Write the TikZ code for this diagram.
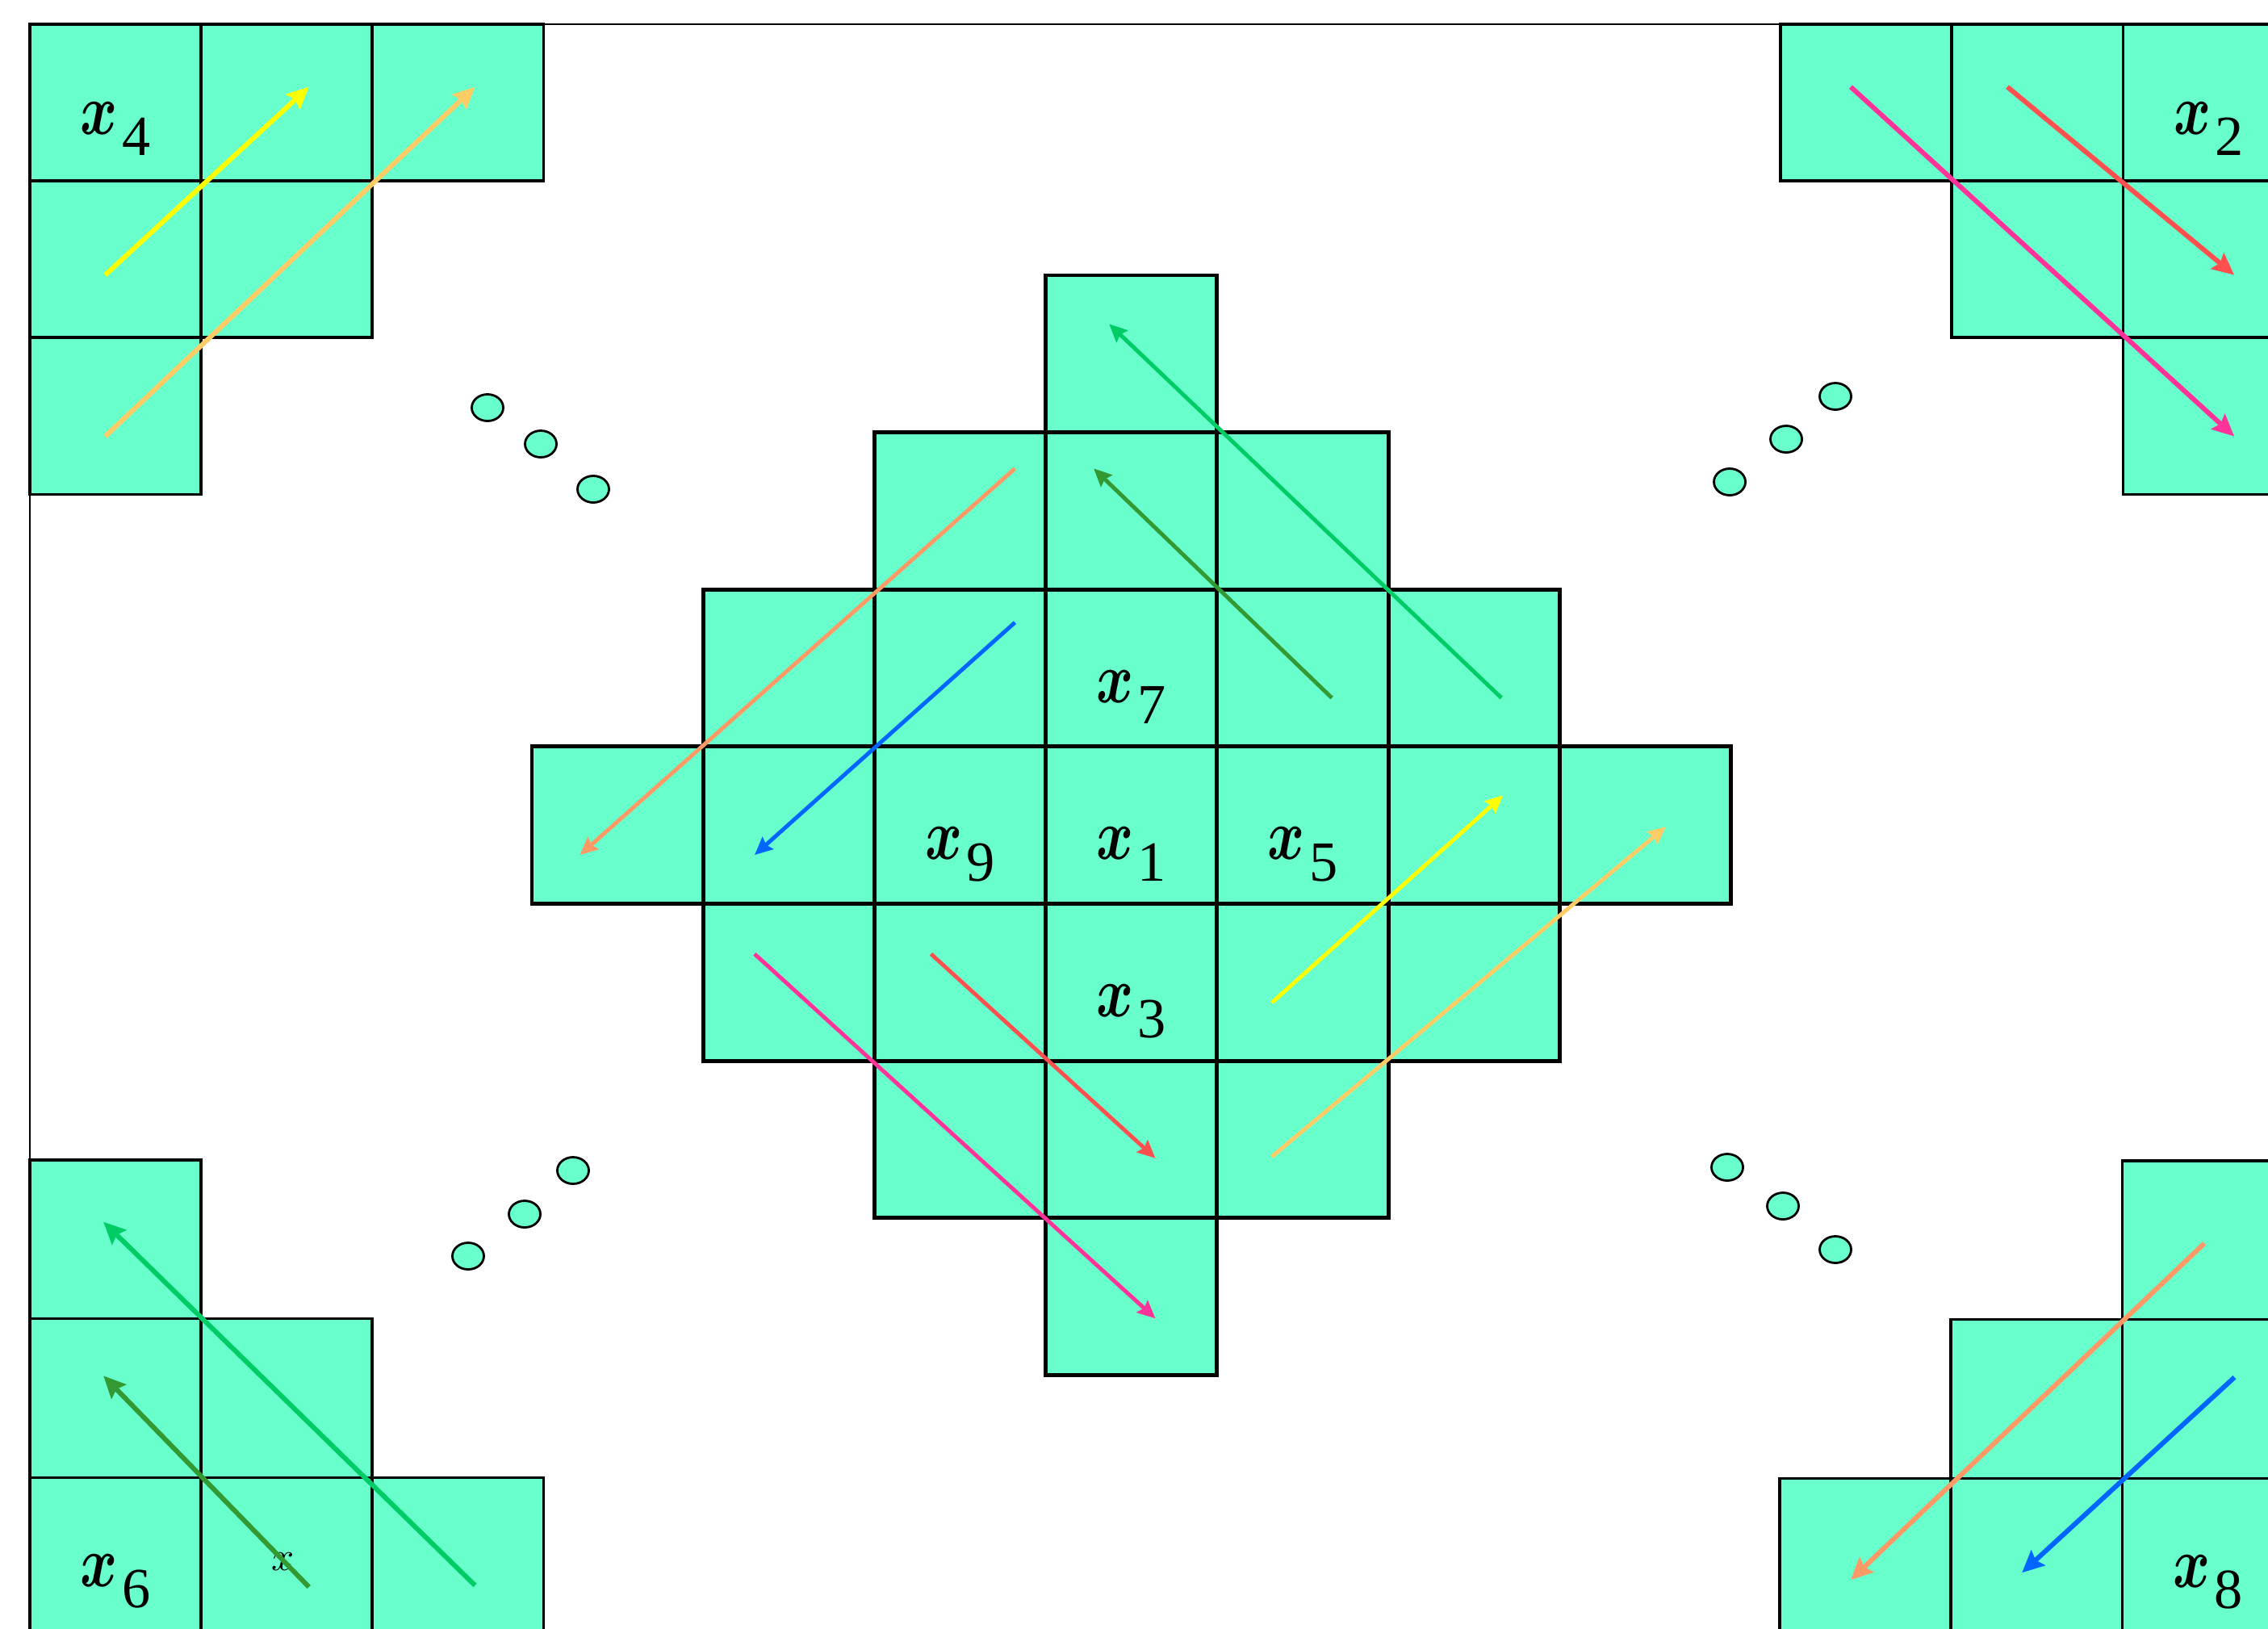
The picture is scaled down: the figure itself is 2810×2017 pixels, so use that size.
\documentclass[tikz,border=0pt]{standalone}
\usepackage{fontspec}
\setmainfont{Liberation Serif}
\usepackage{tikz}
\usetikzlibrary{arrows.meta}
\definecolor{cellc}{RGB}{104,255,204}
\definecolor{yelc}{RGB}{255,255,0}
\definecolor{sandc}{RGB}{255,204,102}
\definecolor{pinkc}{RGB}{255,51,153}
\definecolor{redc}{RGB}{255,80,80}
\definecolor{greenc}{RGB}{0,204,102}
\definecolor{dgreenc}{RGB}{51,153,51}
\definecolor{salmonc}{RGB}{255,153,102}
\definecolor{bluec}{RGB}{0,102,255}
\newcommand{\xsub}[1]{\scalebox{0.8}[1.02]{\boldmath$x$}\kern1.5pt\raisebox{-7.4pt}{\fontsize{20}{20}\selectfont #1}}

\begin{document}
\begin{tikzpicture}[x=0.01cm, y=-0.01cm,
  cell/.style={draw, fill=cellc, line width=1pt},
  ccell/.style={cell, line width=1.4pt},
  lbl/.style={font=\fontsize{30}{30}\selectfont, anchor=base, inner sep=0pt},
  arr/.style={-{Stealth[length=2.7mm, width=2.5mm, inset=0.4mm]}, line width=1.7pt},
  carr/.style={-{Stealth[length=2.2mm, width=2mm, inset=0.3mm]}, line width=1.4pt},
  dot/.style={draw, fill=cellc, line width=0.8pt}]
  \useasboundingbox (0,0) rectangle (2810,2017);
  \clip (0,0) rectangle (2810,2017);
  \draw[line width=0.6pt] (37,2017) -- (37,30) -- (2810,30);
  % top left block
  \begin{scope}[shift={(37,30)}, x=2.12cm, y=-1.94cm]
    \foreach \c/\r in {0/0,1/0,2/0,0/1,1/1,0/2} \draw[cell] (\c,\r) rectangle ++(1,1);
    \node[lbl] (x4) at (0.5,0.705) {\xsub{4}};
    \draw[arr, yelc] (0.44,1.6) -- (1.63,0.4);
    \draw[arr, sandc] (0.44,2.63) -- (2.6,0.4);
  \end{scope}
  % top right block
  \begin{scope}[shift={(2206,30)}, x=2.12cm, y=-1.94cm]
    \foreach \c/\r in {0/0,1/0,2/0,1/1,2/1,2/2} \draw[cell] (\c,\r) rectangle ++(1,1);
    \node[lbl] (x2) at (2.5,0.705) {\xsub{2}};
    \draw[arr, pinkc] (0.41,0.4) -- (2.65,2.63);
    \draw[arr, redc] (1.325,0.4) -- (2.65,1.6);
  \end{scope}
  % bottom left block
  \begin{scope}[shift={(37,1437)}, x=2.12cm, y=-1.965cm]
    \foreach \c/\r in {0/0,0/1,1/1,0/2,1/2,2/2} \draw[cell] (\c,\r) rectangle ++(1,1);
    \node[lbl] (x6) at (0.5,2.69) {\xsub{6}};
    \node[font=\fontsize{14}{14}\selectfont, inner sep=0pt] (xs) at (1.48,2.53) {$x$};
    \draw[arr, greenc] (2.6,2.68) -- (0.43,0.39);
    \draw[arr, dgreenc] (1.63,2.69) -- (0.43,1.36);
  \end{scope}
  % bottom right block
  \begin{scope}[shift={(2205,1438)}, x=2.12cm, y=-1.965cm]
    \foreach \c/\r in {2/0,1/1,2/1,0/2,1/2,2/2} \draw[cell] (\c,\r) rectangle ++(1,1);
    \node[lbl] (x8) at (2.5,2.69) {\xsub{8}};
    \draw[arr, salmonc] (2.48,0.52) -- (0.415,2.64);
    \draw[arr, bluec] (2.656,1.364) -- (1.415,2.595);
  \end{scope}
  % centre diamond
  \begin{scope}[shift={(659,341)}, x=2.121cm, y=-1.945cm]
    \foreach \r/\a/\b in {0/3/3,1/2/4,2/1/5,3/0/6,4/1/5,5/2/4,6/3/3}
      \foreach \c in {\a,...,\b} \draw[ccell] (\c,\r) rectangle ++(1,1);
    \foreach \n/\c/\r in {7/3/2,9/2/3,1/3/3,5/4/3,3/3/4}
      \node[lbl] (x\n) at (\c+0.5,\r+0.72) {\xsub{\n}};
    \draw[carr, greenc] (5.66,2.69) -- (3.37,0.31);
    \draw[carr, dgreenc] (4.67,2.69) -- (3.28,1.23);
    \draw[carr, salmonc] (2.82,1.23) -- (0.28,3.69);
    \draw[carr, bluec] (2.82,2.21) -- (1.3,3.69);
    \draw[carr, pinkc] (1.3,4.32) -- (3.64,6.64);
    \draw[carr, redc] (2.33,4.32) -- (3.64,5.62);
    \draw[carr, yelc] (4.32,4.63) -- (5.67,3.31);
    \draw[carr, sandc] (4.32,5.61) -- (6.62,3.51);
  \end{scope}
  % dots
  \foreach \p in {(604,505),(670,550),(735,606),(2274,491),(2213,544),(2143,597),
    (710,1450),(650,1504),(580,1556),(2140,1446),(2209,1494),(2274,1548)}
    \draw[dot] \p ellipse [x radius=1.95mm, y radius=1.65mm];
\end{tikzpicture}
\end{document}
